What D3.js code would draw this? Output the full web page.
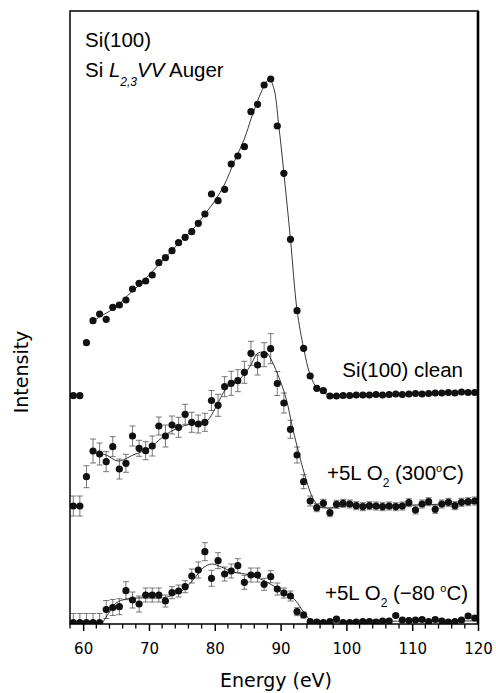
<!DOCTYPE html>
<html>
<head>
<meta charset="utf-8">
<script src="https://cdnjs.cloudflare.com/ajax/libs/d3/7.8.5/d3.min.js"></script>
<style>
  body { margin: 0; background: #fff; }
  svg { display: block; }
</style>
</head>
<body>
<svg id="chart" width="496" height="693"></svg>
<script>
// energies of the measured points (eV)
const energy = [
  58.5, 59.5, 60.5, 61.5, 62.5, 63.5, 64.5, 65.5, 66.5, 67.5,
  68.5, 69.5, 70.5, 71.5, 72.5, 73.5, 74.5, 75.5, 76.5, 77.5,
  78.5, 79.5, 80.5, 81.5, 82.5, 83.5, 84.5, 85.5, 86.5, 87.5,
  88.5, 89.5, 90.5, 91.5, 92.5, 93.5, 94.5, 95.5, 96.5, 97.5,
  98.5, 99.5, 100.5, 101.5, 102.5, 103.5, 104.5, 105.5, 106.5, 107.5,
  108.5, 109.5, 110.5, 111.5, 112.5, 113.5, 114.5, 115.5, 116.5, 117.5,
  118.5, 119.5
];

// intensities (arb. units, curves offset as in the figure)
const cleanI = [
  228.3, 228.3, 281.3, 303.3, 310, 304.7, 316.7, 319, 324, 335,
  340.7, 343, 349, 361.3, 366.3, 373.3, 381.3, 386.7, 392.3, 400.7,
  410, 430, 423.3, 434.7, 460, 468, 477.3, 512.3, 519.7, 539,
  545, 498, 450.7, 384.7, 313.3, 275.7, 248, 235.7, 233.3, 228,
  228, 228.5, 228.5, 229, 229, 229, 229.5, 229, 229.5, 230,
  229.5, 230, 230.5, 230, 230.5, 231, 231, 231.5, 231, 232,
  231.5, 231.5
];

const ox300I = [
  118, 118, 147.3, 173, 170, 162.3, 177.3, 155, 160.7, 188,
  175.7, 173.3, 178, 198, 188, 199, 196.7, 209.7, 201.7, 200,
  201.7, 223.5, 218.7, 237.3, 240.7, 243.3, 251.7, 270.7, 259, 269.3,
  275.3, 240.5, 221, 194.7, 169, 142.3, 123, 116.3, 120.7, 111.3,
  119.7, 120.7, 120, 118.3, 117.3, 118.3, 118, 117.3, 118, 117.3,
  118, 121.3, 114, 120, 122.3, 114.7, 120, 121.7, 118.3, 121.7,
  122.3, 123
];
const ox300Err = [
  10, 10, 11, 12, 11, 10, 10, 10, 9, 10,
  8, 9, 10, 9, 11, 9, 10, 10, 10, 9,
  9, 10, 11, 10, 12, 11, 11, 12, 10, 12,
  15, 12, 10, 9, 8, 7, 5, 4, 4, 4,
  4, 4, 4, 4, 4, 4, 4, 4, 4, 4,
  4, 4, 4, 4, 4, 4, 4, 4, 4, 4,
  4, 4
];

const ox80I = [
  1.5, 1.5, 1.5, 1.5, 1.5, 14.5, 16.5, 17.3, 33.3, 24,
  20, 29, 29, 29, 23, 31.3, 33, 37.3, 48, 54,
  72.3, 45.7, 63.3, 50, 53, 58.3, 41.7, 49, 49, 39.7,
  47.3, 35, 31, 28, 12.3, 9, 2.3, 2, 1.5, 2.5,
  5, 1.5, 1.5, 2, 2.5, 2.5, 2, 3, 3, 8.5,
  4, 3.5, 4, 4.5, 2.5, 4.5, 3, 2, 2.5, 4,
  8, 6
];
const ox80Err = [
  9, 9, 9, 9, 9, 9, 8, 8, 9, 8,
  8, 7, 7, 7, 6, 6, 6, 6, 7, 8,
  9, 8, 8, 7, 7, 7, 7, 7, 7, 6,
  6, 6, 5, 5, 4, 3, 2, 2, 2, 2,
  2, 2, 2, 2, 2, 2, 2, 2, 2, 2,
  2, 2, 2, 2, 2, 2, 2, 2, 2, 2,
  2, 2
];

// fitted lines drawn through the data
const fitCleanE = [61.5, 63, 65, 67, 69, 71, 73, 75, 77, 78.5, 80, 81.5, 83, 84.5, 85.5, 86.5, 87.5, 88.3, 89, 89.7, 90.5, 91.5, 92.5, 93.5, 94.5, 95.5, 96.5, 98, 120];
const fitCleanI = [303, 309, 317, 330, 342, 356, 370, 384, 397, 410, 423, 440, 463, 485, 505, 523, 538, 545, 535, 500, 451, 385, 314, 276, 249, 236, 231, 229, 231];

const fit300E = [62.3, 63.5, 65.3, 67.6, 70.1, 71.9, 73.2, 75.2, 77.2, 78.8, 80.1, 81.8, 83.8, 85.3, 86.6, 87.9, 88.6, 89.9, 90.9, 91.9, 93.9, 94.9, 96, 100, 110, 120];
const fit300I = [170, 169, 163, 169, 176, 186, 192, 198, 201, 203, 216, 236, 245, 257, 271, 271, 264, 244, 224, 194, 144, 126, 117, 118, 119, 121];

const fit80E = [62.8, 64, 65, 66.5, 68, 70, 72, 73.7, 75.2, 76.7, 78.2, 79.5, 81, 82.8, 85.3, 87.9, 90.4, 92.2, 93.5, 95, 100, 110, 120];
const fit80I = [0, 12, 21, 25, 26, 26, 26, 29, 34, 44, 56, 60, 57, 52, 49, 42, 32, 24, 12, 2, 2, 3, 3];

const xTicks = [60, 70, 80, 90, 100, 110, 120];

const margin = { top: 11, right: 18, bottom: 69, left: 70 };
const svg = d3.select('#chart');
const width = +svg.attr('width') - margin.left - margin.right;   // 408
const height = +svg.attr('height') - margin.top - margin.bottom; // 613

const x = d3.scaleLinear().domain([58, 120]).range([0, width]);
const y = d3.scaleLinear().domain([0, 613]).range([height, 0]);

const g = svg.append('g').attr('transform', `translate(${margin.left},${margin.top})`);

g.append('clipPath').attr('id', 'plot-clip')
  .append('rect').attr('width', width).attr('height', height);

// x axis: major ticks with labels, minor ticks every 2 eV
const xAxis = g.append('g')
  .attr('transform', `translate(0,${height})`)
  .call(d3.axisBottom(x).tickValues(xTicks).tickSize(7).tickPadding(12).tickFormat(d3.format('d')));
xAxis.select('.domain').remove();
xAxis.selectAll('line').attr('stroke', '#000').attr('stroke-width', 1.5);
xAxis.selectAll('text')
  .style('font-family', '"DejaVu Sans", sans-serif')
  .style('font-size', '15px')
  .attr('fill', '#000');

g.append('g').selectAll('line')
  .data(d3.range(58, 121, 2).filter(v => v % 10 !== 0))
  .enter().append('line')
  .attr('x1', d => x(d)).attr('x2', d => x(d))
  .attr('y1', height).attr('y2', height + 4.5)
  .attr('stroke', '#000').attr('stroke-width', 1.3);

// data layer
const plot = g.append('g').attr('clip-path', 'url(#plot-clip)');

const series = [
  { values: cleanI, err: null, fitE: fitCleanE, fitI: fitCleanI },
  { values: ox300I, err: ox300Err, fitE: fit300E, fitI: fit300I },
  { values: ox80I, err: ox80Err, fitE: fit80E, fitI: fit80I }
];

const line = d3.line()
  .x(d => x(d[0]))
  .y(d => y(d[1]))
  .curve(d3.curveCatmullRom.alpha(0.5));

series.forEach(s => {
  const pts = energy.map((e, i) => ({ e: e, v: s.values[i], err: s.err ? s.err[i] : 0 }));

  if (s.err) {
    const eb = plot.append('g').attr('stroke', '#555').attr('stroke-width', 0.8);
    eb.selectAll('line.bar').data(pts).enter().append('line')
      .attr('x1', d => x(d.e)).attr('x2', d => x(d.e))
      .attr('y1', d => y(d.v - d.err)).attr('y2', d => y(d.v + d.err));
    eb.selectAll('line.top').data(pts).enter().append('line')
      .attr('x1', d => x(d.e) - 3).attr('x2', d => x(d.e) + 3)
      .attr('y1', d => y(d.v + d.err)).attr('y2', d => y(d.v + d.err));
    eb.selectAll('line.bot').data(pts).enter().append('line')
      .attr('x1', d => x(d.e) - 3).attr('x2', d => x(d.e) + 3)
      .attr('y1', d => y(d.v - d.err)).attr('y2', d => y(d.v - d.err));
  }

  plot.append('path')
    .datum(s.fitE.map((e, i) => [e, s.fitI[i]]))
    .attr('d', line)
    .attr('fill', 'none')
    .attr('stroke', '#222')
    .attr('stroke-width', 0.9);

  plot.append('g').selectAll('circle')
    .data(pts).enter().append('circle')
    .attr('cx', d => x(d.e))
    .attr('cy', d => y(d.v))
    .attr('r', 3.6)
    .attr('fill', '#111');
});

// frame
g.append('rect')
  .attr('width', width).attr('height', height)
  .attr('fill', 'none').attr('stroke', '#000').attr('stroke-width', 1.5);
g.append('line')
  .attr('x1', width).attr('x2', width).attr('y1', 0).attr('y2', height)
  .attr('stroke', '#000').attr('stroke-width', 2.6);

// axis titles
svg.append('text')
  .attr('x', 276).attr('y', 687)
  .attr('text-anchor', 'middle')
  .style('font-family', '"DejaVu Sans", sans-serif')
  .style('font-size', '19px')
  .text('Energy (eV)');

svg.append('text')
  .attr('transform', 'translate(28,372) rotate(-90)')
  .attr('text-anchor', 'middle')
  .style('font-family', '"DejaVu Sans", sans-serif')
  .style('font-size', '19px')
  .text('Intensity');

// in-plot labels
const labelFont = '"Liberation Sans", Arial, sans-serif';

function richText(px, py, anchor, parts) {
  const t = svg.append('text')
    .attr('x', px).attr('y', py)
    .attr('text-anchor', anchor)
    .style('font-family', labelFont)
    .style('font-size', '20.5px')
    .attr('fill', '#000');
  parts.forEach(p => {
    const ts = t.append('tspan').text(p.t);
    if (p.dy) ts.attr('dy', p.dy);
    if (p.size) ts.style('font-size', p.size + 'px');
    if (p.italic) ts.style('font-style', 'italic');
  });
  return t;
}

richText(85, 47, 'start', [{ t: 'Si(100)' }]);
richText(85, 77, 'start', [
  { t: 'Si ' },
  { t: 'L', italic: true },
  { t: '2,3', italic: true, size: 12, dy: 9 },
  { t: 'VV', italic: true, dy: -9 },
  { t: ' Auger' }
]);

richText(463, 377, 'end', [{ t: 'Si(100) clean' }]);

richText(327, 480, 'start', [
  { t: '+5L O' },
  { t: '2', size: 12, dy: 7 },
  { t: ' (300', dy: -7 },
  { t: 'o', size: 11, dy: -8 },
  { t: 'C)', dy: 8 }
]);

richText(325, 600, 'start', [
  { t: '+5L O' },
  { t: '2', size: 12, dy: 7 },
  { t: ' (\u221280 ', dy: -7 },
  { t: 'o', size: 11, dy: -8 },
  { t: 'C)', dy: 8 }
]);
</script>
</body>
</html>
